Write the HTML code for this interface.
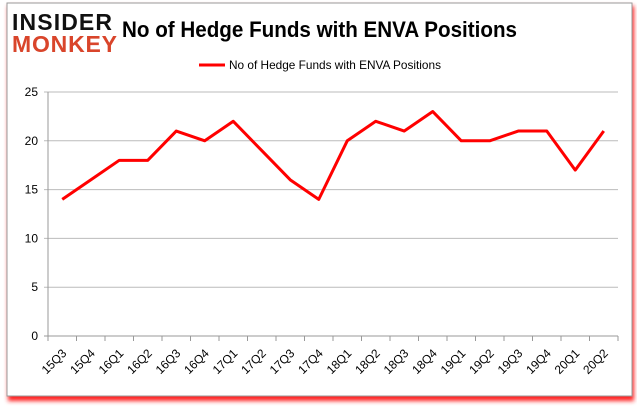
<!DOCTYPE html>
<html><head><meta charset="utf-8"><style>
body{margin:0;width:637px;height:408px;background:#fff;overflow:hidden;font-family:"Liberation Sans",sans-serif}
</style></head><body>
<svg width="637" height="408">
<defs><filter id="sh" x="-5%" y="-5%" width="110%" height="115%"><feGaussianBlur stdDeviation="2"/></filter></defs>
<rect x="8" y="6" width="626" height="395" fill="#ff2020" filter="url(#sh)"/>
<rect x="7" y="3" width="625" height="393" fill="#fff" stroke="#999"/>
<g>
<text x="12" y="30" font-size="23" font-weight="900" fill="#111" textLength="100">INSIDER</text>
<text x="12" y="52" font-size="23" font-weight="900" fill="#d9452b" textLength="105">MONKEY</text>
</g>
<text x="122" y="37" font-size="22" font-weight="bold" fill="#000" textLength="395" lengthAdjust="spacingAndGlyphs">No of Hedge Funds with ENVA Positions</text>
<line x1="199" y1="65" x2="225" y2="65" stroke="#f00" stroke-width="3"/>
<text x="229" y="69" font-size="12" fill="#000" textLength="212" lengthAdjust="spacingAndGlyphs">No of Hedge Funds with ENVA Positions</text>
<g id="grid"></g><g id="axes"></g>
<polyline id="line" fill="none" stroke="#f00" stroke-width="3" stroke-linejoin="round"/>
</svg>
<script>
const categories=["15Q3","15Q4","16Q1","16Q2","16Q3","16Q4","17Q1","17Q2","17Q3","17Q4","18Q1","18Q2","18Q3","18Q4","19Q1","19Q2","19Q3","19Q4","20Q1","20Q2"];
const values=[14,16,18,18,21,20,22,19,16,14,20,22,21,23,20,20,21,21,17,21];
const yTicks=[0,5,10,15,20,25];
const L=48,R=618,Y0=336,Y25=92,NS="http://www.w3.org/2000/svg";
const bw=(R-L)/categories.length;
const x=i=>L+bw*(i+0.5);
const y=v=>Y0-(Y0-Y25)*v/25;
const grid=document.getElementById('grid'),axes=document.getElementById('axes');
function mk(tag,attrs,parent){const e=document.createElementNS(NS,tag);for(const k in attrs)e.setAttribute(k,attrs[k]);parent.appendChild(e);return e;}
yTicks.forEach(t=>{
  const l=mk('line',{x1:L-4,x2:R,y1:y(t),y2:y(t),stroke:t===0?'#999':'#bbb'},grid);
  
  
  const tx=mk('text',{x:L-10,y:y(t)+4,'font-size':12,'text-anchor':'end',fill:'#000'},axes);
  tx.textContent=t;
  
  
});
const ya=mk('line',{x1:L,x2:L,y1:Y25,y2:Y0,stroke:'#999'},axes);


categories.forEach((c,i)=>{
  const tk=mk('line',{x1:L+bw*i,x2:L+bw*i,y1:Y0,y2:Y0+5,stroke:'#999'},axes);
  
  
  const tx=mk('text',{x:x(i)+5,y:Y0+18,'font-size':12,'text-anchor':'end',fill:'#000',transform:`rotate(-45 ${x(i)+5} ${Y0+18})`},axes);
  tx.textContent=c;
  
  
});
const rt=mk('line',{x1:R,x2:R,y1:Y0,y2:Y0+5,stroke:'#999'},axes);


document.getElementById('line').setAttribute('points',values.map((v,i)=>x(i)+','+y(v)).join(' '));
</script>
</body></html>
